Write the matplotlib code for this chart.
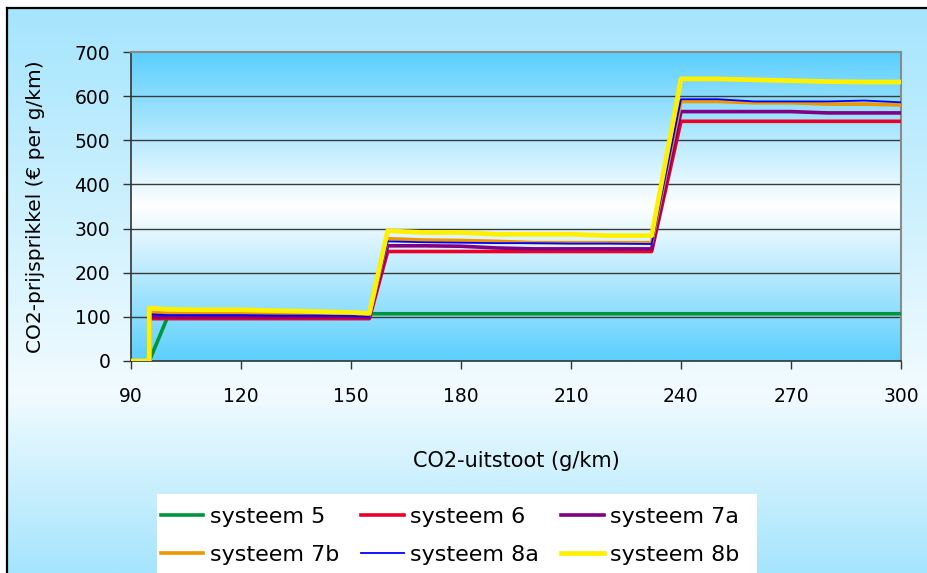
import numpy as np
import matplotlib
matplotlib.use('Agg')
import matplotlib.pyplot as plt
from matplotlib.colors import LinearSegmentedColormap
from matplotlib.patches import Rectangle

# data
uitstoot = [90, 95, 95, 100, 110, 120, 130, 140, 150, 155,
            160, 170, 180, 190, 200, 210, 220, 232,
            240, 250, 260, 270, 280, 290, 300]

systeem_5 = [0, 0, 0, 100, 102, 103, 104, 105, 106, 107,
             107, 107, 107, 107, 107, 107, 107, 107,
             107, 107, 107, 107, 107, 107, 107]
systeem_6 = [0, 0, 96, 96, 96, 96, 96, 96, 96, 96,
             248, 248, 248, 248, 248, 248, 248, 248,
             543, 543, 543, 543, 543, 543, 543]
systeem_7a = [0, 0, 100, 100, 100, 100, 100, 100, 100, 99,
              261, 261, 260, 256, 254, 254, 254, 254,
              565, 565, 565, 565, 562, 562, 562]
systeem_7b = [0, 0, 110, 108, 108, 108, 107, 106, 105, 104,
              277, 274, 273, 271, 268, 268, 268, 268,
              588, 588, 585, 585, 582, 582, 580]
systeem_8a = [0, 0, 106, 104, 104, 104, 103, 103, 102, 101,
              271, 269, 268, 267, 267, 266, 266, 265,
              593, 593, 588, 588, 588, 590, 586]
systeem_8b = [0, 0, 120, 117, 116, 116, 114, 112, 110, 108,
              295, 291, 291, 287, 287, 287, 284, 284,
              639, 639, 637, 635, 633, 632, 632]

series = [
    ('systeem 5', systeem_5, '#00963c', 2.6),
    ('systeem 6', systeem_6, '#eb0028', 2.6),
    ('systeem 7a', systeem_7a, '#820082', 2.6),
    ('systeem 7b', systeem_7b, '#f09600', 2.6),
    ('systeem 8a', systeem_8a, '#0000ff', 1.3),
    ('systeem 8b', systeem_8b, '#fff000', 3.4),
]

xticks = [90, 120, 150, 180, 210, 240, 270, 300]
yticks = [0, 100, 200, 300, 400, 500, 600, 700]

W, H = 928, 573
fig = plt.figure(figsize=(W / 100, H / 100), dpi=100, facecolor='white')

# outer background with gradient and black frame
bg = fig.add_axes([7 / W, 0, 1 - 7 / W, 1 - 8 / H], zorder=-10)
bg_cmap = LinearSegmentedColormap.from_list(
    'bg', [(0, '#a5e5fd'), (0.68, '#f2fbff'), (1, '#a5e5fd')])
bg.imshow(np.linspace(0, 1, 256).reshape(-1, 1), cmap=bg_cmap,
          aspect='auto', extent=[0, 1, 0, 1])
bg.set_xticks([])
bg.set_yticks([])
for side in ['right', 'bottom']:
    bg.spines[side].set_visible(False)
for side in ['left', 'top']:
    bg.spines[side].set_linewidth(1.6)
    bg.spines[side].set_color('black')

# legend background box
fig.patches.append(Rectangle((157 / W, 0), 600 / W, 1 - 494 / H,
                             transform=fig.transFigure, facecolor='white',
                             edgecolor='none', zorder=-5))

ax = fig.add_axes([131 / W, 1 - 361 / H, 770 / W, 309 / H])
ax_cmap = LinearSegmentedColormap.from_list(
    'plot', [(0, '#5bcffd'), (0.5, '#ffffff'), (1, '#5bcffd')])
ax.imshow(np.linspace(0, 1, 256).reshape(-1, 1), cmap=ax_cmap,
          aspect='auto', extent=[0, 1, 0, 1], transform=ax.transAxes, zorder=0)

for y in yticks[1:-1]:
    ax.axhline(y, color='#3a3a3a', linewidth=1.0, zorder=1)

for name, vals, col, lw in series:
    ax.plot(uitstoot, vals, color=col, linewidth=lw, label=name, zorder=3)

ax.set_xlim(90, 300)
ax.set_ylim(0, 700)
ax.set_xticks(xticks)
ax.set_yticks(yticks)
ax.tick_params(axis='both', direction='out', length=6, width=1,
               color='#333333', labelsize=13.5)
ax.tick_params(axis='x', pad=13)
ax.tick_params(axis='y', pad=9)

for side in ['left', 'bottom']:
    ax.spines[side].set_color('#333333')
    ax.spines[side].set_linewidth(1.2)
for side in ['top', 'right']:
    ax.spines[side].set_color('#8a8a8a')
    ax.spines[side].set_linewidth(1.5)

ax.set_xlabel('CO2-uitstoot (g/km)', fontsize=15)
ax.set_ylabel('CO2-prijsprikkel (€ per g/km)', fontsize=14.5)
ax.xaxis.set_label_coords(0.5, -0.29)
ax.yaxis.set_label_coords(-0.112, 0.5)

# legend fills row by row in the reference: reorder for column-major layout
handles, labels = ax.get_legend_handles_labels()
order = [0, 3, 1, 4, 2, 5]
fig.legend([handles[i] for i in order], [labels[i] for i in order],
           ncol=3, loc='upper left',
           bbox_to_anchor=(161 / W, 1 - 507 / H), frameon=False,
           fontsize=16, handlelength=1.9, handletextpad=0.3,
           columnspacing=1.0, labelspacing=0.82, borderpad=0,
           borderaxespad=0)

fig.savefig('out.png', dpi=100, facecolor=fig.get_facecolor())
